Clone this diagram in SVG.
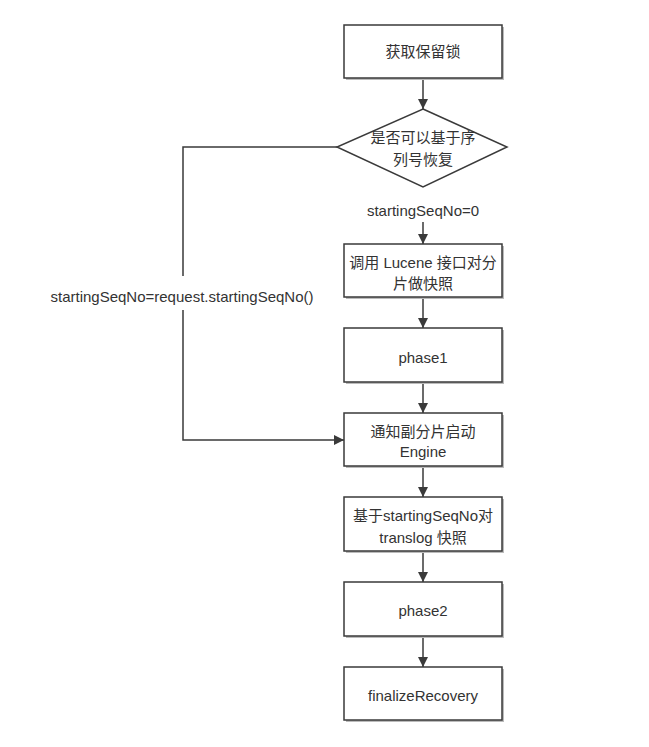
<svg xmlns="http://www.w3.org/2000/svg" width="649" height="747" viewBox="0 0 649 747">
<style>
.box{fill:#fff;stroke:#3a3a3a;stroke-width:1.5}
.shadow{fill:#bbb}
.t{font-family:"Liberation Sans","Noto Sans CJK SC",sans-serif;font-size:15px;fill:#333;text-anchor:middle;dominant-baseline:central}
.c{fill:none;stroke:#3a3a3a;stroke-width:1.5}
</style>
<defs>
<marker id="ah" viewBox="0 0 10 10" refX="10" refY="5" markerWidth="10" markerHeight="10" markerUnits="userSpaceOnUse" orient="auto">
<path d="M0,0 L10,5 L0,10 z" fill="#3a3a3a"/>
</marker>
</defs>
<rect width="649" height="747" fill="#fff"/>
<g id="connectors">
<line class="c" x1="423" y1="78" x2="423" y2="109" marker-end="url(#ah)"/>
<line class="c" x1="423" y1="222" x2="423" y2="244" marker-end="url(#ah)"/>
<line class="c" x1="423" y1="297" x2="423" y2="328" marker-end="url(#ah)"/>
<line class="c" x1="423" y1="382" x2="423" y2="413" marker-end="url(#ah)"/>
<line class="c" x1="423" y1="466" x2="423" y2="497" marker-end="url(#ah)"/>
<line class="c" x1="423" y1="551" x2="423" y2="582" marker-end="url(#ah)"/>
<line class="c" x1="423" y1="636" x2="423" y2="667" marker-end="url(#ah)"/>
<polyline class="c" points="337,147 183,147 183,276"/>
<polyline class="c" points="183,310 183,440 344,440" marker-end="url(#ah)"/>
<text class="t" x="423" y="210">startingSeqNo=0</text>
<text class="t" x="182" y="296">startingSeqNo=request.startingSeqNo()</text>
</g>
<g id="n1">
<rect class="shadow" x="346" y="27" width="158" height="53"/>
<rect class="box" x="344" y="25" width="158" height="53"/>
<text class="t" x="423" y="51">获取保留锁</text>
</g>
<g id="n2">
<polygon class="box" points="423,109 507,147 423,187 337,147"/>
<text class="t" x="423" y="137">是否可以基于序</text>
<text class="t" x="423" y="159">列号恢复</text>
</g>
<g id="n3">
<rect class="shadow" x="346" y="246" width="158" height="53"/>
<rect class="box" x="344" y="244" width="158" height="53"/>
<text class="t" x="423" y="262">调用 Lucene 接口对分</text>
<text class="t" x="423" y="283">片做快照</text>
</g>
<g id="n4">
<rect class="shadow" x="346" y="330" width="158" height="54"/>
<rect class="box" x="344" y="328" width="158" height="54"/>
<text class="t" x="423" y="357">phase1</text>
</g>
<g id="n5">
<rect class="shadow" x="346" y="415" width="158" height="53"/>
<rect class="box" x="344" y="413" width="158" height="53"/>
<text class="t" x="423" y="431">通知副分片启动</text>
<text class="t" x="423" y="451">Engine</text>
</g>
<g id="n6">
<rect class="shadow" x="346" y="499" width="158" height="54"/>
<rect class="box" x="344" y="497" width="158" height="54"/>
<text class="t" x="423" y="515">基于startingSeqNo对</text>
<text class="t" x="423" y="537">translog 快照</text>
</g>
<g id="n7">
<rect class="shadow" x="346" y="584" width="158" height="54"/>
<rect class="box" x="344" y="582" width="158" height="54"/>
<text class="t" x="423" y="610">phase2</text>
</g>
<g id="n8">
<rect class="shadow" x="346" y="669" width="158" height="53"/>
<rect class="box" x="344" y="667" width="158" height="53"/>
<text class="t" x="423" y="695">finalizeRecovery</text>
</g>
</svg>
